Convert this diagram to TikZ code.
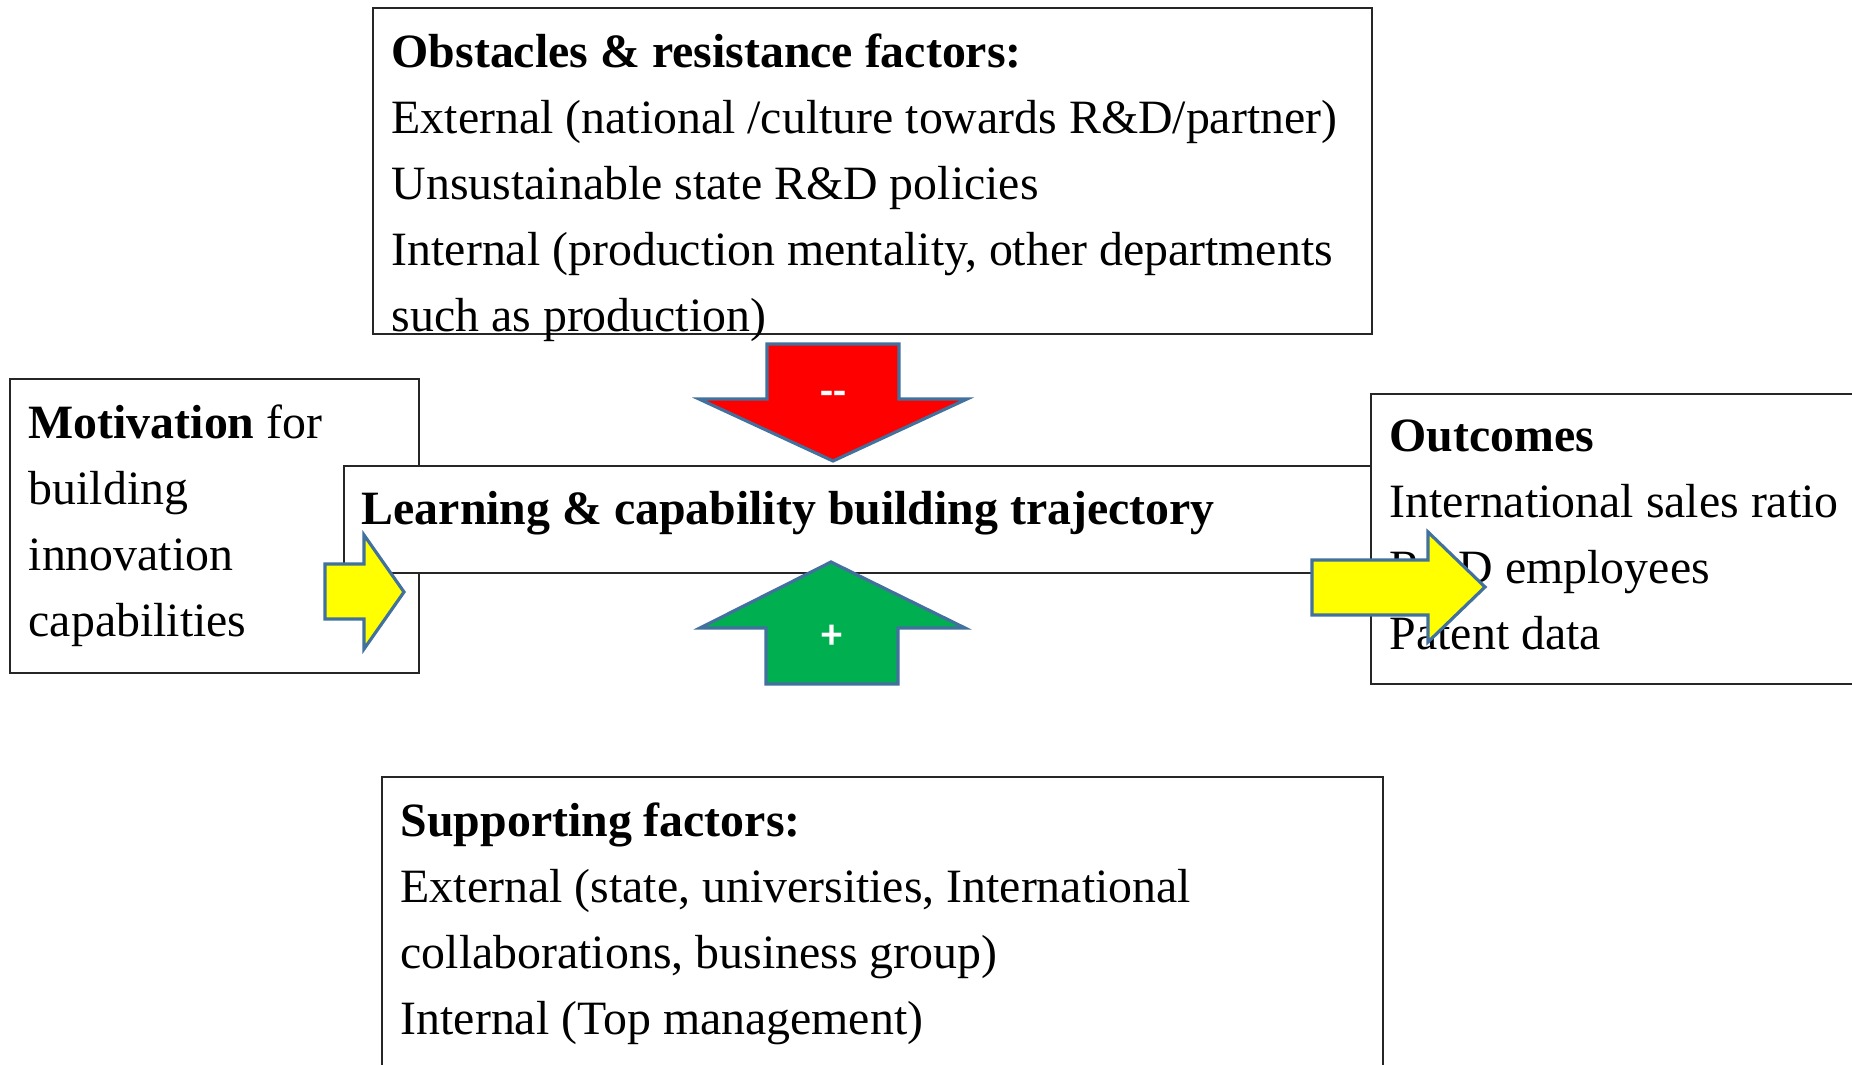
\documentclass[tikz,border=0pt]{standalone}
\usepackage{fontspec}
\setmainfont{Liberation Serif}
\newfontfamily\signfont{Carlito}
\usetikzlibrary{positioning}

\definecolor{arrowedge}{HTML}{41719C}
\definecolor{stopred}{HTML}{FF0000}
\definecolor{pushgreen}{HTML}{00B050}
\definecolor{flowyellow}{HTML}{FFFF00}

\tikzset{
  frame/.style={draw=black!85, line width=0.6pt, fill=white, anchor=north west, inner sep=0pt},
  blocktext/.style={align=left, inner sep=0pt, font=\fontsize{13.6}{18.8}\selectfont},
  bigarrow/.style={draw=arrowedge, line width=0.9pt, line join=miter},
  signlabel/.style={text=white, font=\signfont\bfseries\fontsize{12}{14}\selectfont, inner sep=0pt},
}

\begin{document}
\begin{tikzpicture}[x=0.01cm, y=-0.01cm]
\clip (0,0) rectangle (1852,1065);

% boxes
\node[frame, minimum width=4.09cm, minimum height=2.94cm] (motiv) at (9,378) {};
\node[frame, minimum width=9.98cm, minimum height=3.26cm] (obst) at (372,7) {};
\node[frame, minimum width=10.6cm, minimum height=1.07cm] (learn) at (343,465) {};
\node[frame, minimum width=5cm, minimum height=2.9cm] (outc) at (1370,393) {};
\node[frame, minimum width=10cm, minimum height=3.5cm] (supp) at (381,776) {};

% texts
\node[blocktext, below right=0.26cm and 0.19cm of obst.north west] (obsttext)
  {\textbf{Obstacles \& resistance factors:}\\
   External (national /culture towards R\&D/partner)\\
   Unsustainable state R\&D policies\\
   Internal (production mentality, other departments\\
   such as production)};
\node[blocktext, below right=0.26cm and 0.19cm of motiv.north west] (motivtext)
  {\textbf{Motivation} for\\building\\innovation\\capabilities};
\node[blocktext, below right=0.26cm and 0.18cm of learn.north west] (learntext)
  {\textbf{Learning \& capability building trajectory}};
\node[blocktext, below right=0.26cm and 0.19cm of outc.north west] (outctext)
  {\textbf{Outcomes}\\International sales ratio\\R\&D employees\\Patent data};
\node[blocktext, below right=0.26cm and 0.19cm of supp.north west] (supptext)
  {\textbf{Supporting factors:}\\
   External (state, universities, International\\
   collaborations, business group)\\
   Internal (Top management)};

% block arrows
\draw[bigarrow, fill=stopred] (767,344) -- (899,344) -- (899,399) -- (967,399)
  -- (833,461) -- (699,399) -- (767,399) -- cycle;
\node[signlabel] (minus) at (833,398) {{-}{-}};
\draw[bigarrow, fill=pushgreen] (831,562) -- (965,628) -- (898,628) -- (898,684)
  -- (766,684) -- (766,628) -- (700,628) -- cycle;
\node[signlabel] (plus) at (832,637) {+};
\draw[bigarrow, fill=flowyellow] (325,564) -- (364,564) -- (364,535) -- (404,592)
  -- (364,649) -- (364,619) -- (325,619) -- cycle;
\draw[bigarrow, fill=flowyellow] (1312,560) -- (1428,560) -- (1428,532) -- (1485,587)
  -- (1428,642) -- (1428,615) -- (1312,615) -- cycle;
\end{tikzpicture}
\end{document}
